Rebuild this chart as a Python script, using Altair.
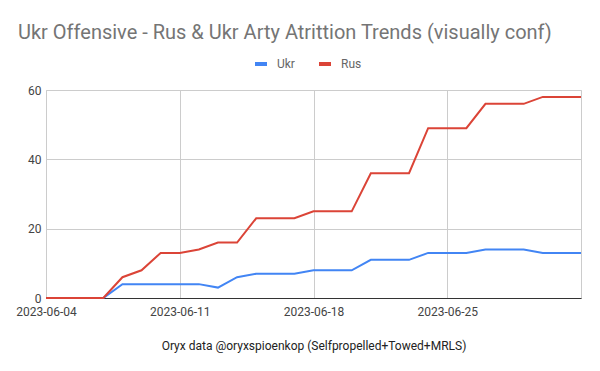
import altair as alt
import pandas as pd

dates = [
    "2023-06-04", "2023-06-05", "2023-06-06", "2023-06-07", "2023-06-08",
    "2023-06-09", "2023-06-10", "2023-06-11", "2023-06-12", "2023-06-13",
    "2023-06-14", "2023-06-15", "2023-06-16", "2023-06-17", "2023-06-18",
    "2023-06-19", "2023-06-20", "2023-06-21", "2023-06-22", "2023-06-23",
    "2023-06-24", "2023-06-25", "2023-06-26", "2023-06-27", "2023-06-28",
    "2023-06-29", "2023-06-30", "2023-07-01", "2023-07-02",
]
ukr = [0, 0, 0, 0, 4, 4, 4, 4, 4, 3, 6, 7, 7, 7, 8, 8, 8, 11, 11, 11,
       13, 13, 13, 14, 14, 14, 13, 13, 13]
rus = [0, 0, 0, 0, 6, 8, 13, 13, 14, 16, 16, 23, 23, 23, 25, 25, 25, 36, 36, 36,
       49, 49, 49, 56, 56, 56, 58, 58, 58]
series = ["Ukr", "Rus"]
colors = ["#4285F4", "#DB4437"]
tick_dates = [(2023, 6, 4), (2023, 6, 11), (2023, 6, 18), (2023, 6, 25)]

df = pd.DataFrame(
    {"date": dates * 2, "value": ukr + rus, "series": ["Ukr"] * len(dates) + ["Rus"] * len(dates)}
)

FONT = "Roboto"

chart = (
    alt.Chart(df)
    .mark_line(strokeWidth=2)
    .encode(
        x=alt.X(
            "date:T",
            scale=alt.Scale(
                type="utc",
                domain=[alt.DateTime(year=2023, month=6, date=4, utc=True),
                        alt.DateTime(year=2023, month=7, date=2, utc=True)],
                nice=False,
            ),
            axis=alt.Axis(
                values=[alt.DateTime(year=y, month=m, date=d, utc=True) for y, m, d in tick_dates],
                format="%Y-%m-%d",
                title="Oryx data @oryxspioenkop (Selfpropelled+Towed+MRLS)",
                titleFont=FONT,
                titleFontSize=12,
                titleFontWeight="normal",
                titleColor="#222222",
                titlePadding=23,
                labelFont=FONT,
                labelFontSize=12,
                labelColor="#444444",
                labelPadding=8,
                ticks=False,
                domainColor="#333333",
                gridColor="#cccccc",
                labelFlush=False,
                labelOverlap=False,
            ),
        ),
        y=alt.Y(
            "value:Q",
            scale=alt.Scale(domain=[0, 60], nice=False),
            axis=alt.Axis(
                values=[0, 20, 40, 60],
                title=None,
                labelFont=FONT,
                labelFontSize=12,
                labelColor="#444444",
                labelPadding=5,
                ticks=False,
                domain=False,
                gridColor="#cccccc",
            ),
        ),
        color=alt.Color(
            "series:N",
            scale=alt.Scale(domain=series, range=colors),
            legend=alt.Legend(
                title=None,
                orient="none",
                legendX=207,
                legendY=-34,
                direction="horizontal",
                symbolType="stroke",
                symbolStrokeWidth=4,
                symbolSize=144,
                labelFont=FONT,
                labelFontSize=12,
                labelColor="#666666",
                labelOffset=8,
                columnPadding=16,
                padding=0,
            ),
        ),
    )
    .properties(
        width=535,
        height=208,
        autosize=alt.AutoSizeParams(type="none"),
        padding={"left": 38, "top": 82, "right": 10, "bottom": 55},
        title=alt.TitleParams(
            "Ukr Offensive - Rus & Ukr Arty Atrittion Trends (visually conf)",
            anchor="start",
            frame="group",
            dx=-28,
            font=FONT,
            fontSize=20,
            fontWeight="normal",
            color="#757575",
            offset=13,
        ),
    )
    .configure_view(stroke="#cccccc")
)

chart.save("out.html", embed_options={"renderer": "svg", "actions": False})
